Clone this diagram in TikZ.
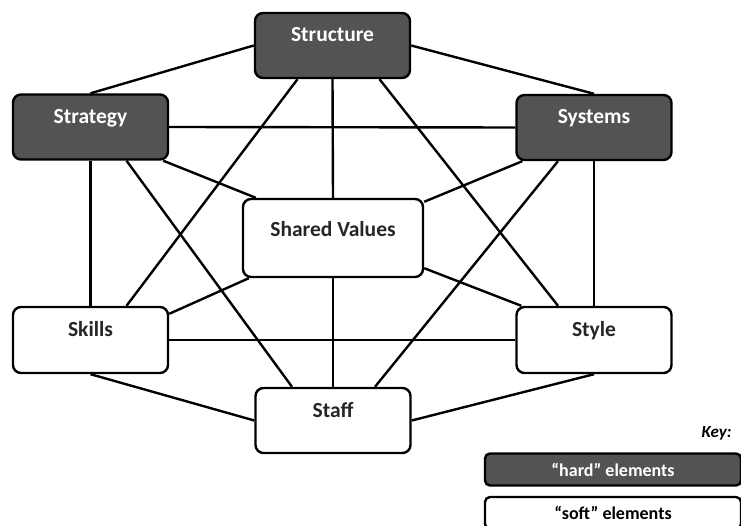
\documentclass[tikz,border=0pt]{standalone}
\usepackage{fontspec}
\setmainfont{Carlito}
\usepackage{tikz}
\usetikzlibrary{positioning}

\definecolor{harddark}{HTML}{535353}

\tikzset{
  element/.style={draw, line width=2.4pt, rounded corners=8pt, inner xsep=0pt,
    inner ysep=2pt, minimum width=155pt, text height=27pt, text depth=34pt,
    font=\fontsize{21.5}{23}\selectfont\bfseries},
  hard/.style={element, fill=harddark, text=white},
  soft/.style={element, fill=white, text=black!85},
  link/.style={line width=2.4pt},
  keybox/.style={draw, line width=2.4pt, rounded corners=5pt, minimum width=256pt,
    minimum height=32pt, inner sep=0pt, font=\fontsize{18}{20}\selectfont\bfseries}
}

\begin{document}
\begin{tikzpicture}[x=1pt,y=-1pt]
  \useasboundingbox (0,0) rectangle (741,526);
  \clip (0,0) rectangle (741,526);

  % Draw the hard elements
  \node[hard] (structure) at (332.5,45.5) {Structure};
  \node[hard] (strategy) at (90.5,127) {Strategy};
  \node[hard] (systems) at (594,127.5) {Systems};

  % Draw the soft elements
  \node[soft, minimum width=180pt, text height=36pt, text depth=38pt] (shared) at (333,238) {Shared Values};
  \node[soft, text height=28pt, text depth=34pt] (skills) at (90.5,340) {Skills};
  \node[soft, text height=28pt, text depth=34pt] (style) at (594,340) {Style};
  \node[soft] (staff) at (333,420.5) {Staff};

  % Connect structure
  \draw[link] (structure.west) -- (strategy.north);
  \draw[link] (structure.east) -- (systems.north);
  \draw[link] ([xshift=-35pt]structure.south) -- ([xshift=36pt]skills.north);
  \draw[link] (structure.south) -- (shared.north);
  \draw[link] ([xshift=47pt]structure.south) -- ([xshift=-36pt]style.north);

  % Connect strategy
  \draw[link] (strategy.east) -- (systems.west);
  \draw[link] (strategy.south) -- (skills.north);
  \draw[link] ([xshift=36pt]strategy.south) -- ([xshift=-41pt]staff.north);
  \draw[link] ([xshift=-6pt]strategy.south east) -- ([xshift=14pt]shared.north west);

  % Connect systems
  \draw[link] ([xshift=7pt]systems.south west) -- ([yshift=-4pt]shared.north east);
  \draw[link] ([xshift=-36pt]systems.south) -- ([xshift=42pt]staff.north);
  \draw[link] (systems.south) -- (style.north);

  % Connect shared values
  \draw[link] ([xshift=7pt]shared.south west) -- ([yshift=-8pt]skills.north east);
  \draw[link] ([yshift=10pt]shared.south east) -- ([xshift=6pt]style.north west);
  \draw[link] (shared.south) -- (staff.north);

  % Connect skills, style and staff
  \draw[link] (skills.east) -- (style.west);
  \draw[link] (skills.south) -- (staff.west);
  \draw[link] (style.south) -- (staff.east);

  % Draw the key
  \node[anchor=base east, font=\fontsize{17}{19}\selectfont\bfseries\itshape] (key) at (735,437) {Key:};
  \node[keybox, fill=harddark, text=white] (hardkey) at (613,469.5) {``hard'' elements};
  \node[keybox, fill=white] (softkey) at (613,513) {``soft'' elements};

\end{tikzpicture}
\end{document}
